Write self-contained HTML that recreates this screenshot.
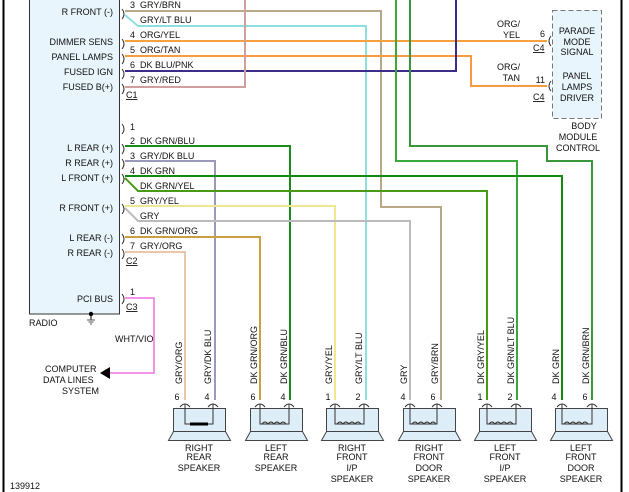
<!DOCTYPE html>
<html><head><meta charset="utf-8"><style>
html,body{margin:0;padding:0;background:#fff;}
svg{display:block;font-family:"Liberation Sans",Arial,sans-serif;font-size:9px;fill:#111;}
</style></head><body>
<svg width="629" height="492" viewBox="0 0 629 492" xmlns="http://www.w3.org/2000/svg">
<line x1="3.5" y1="0" x2="3.5" y2="492" stroke="#000" stroke-width="2"/>
<line x1="621.5" y1="0" x2="621.5" y2="492" stroke="#000" stroke-width="2"/>
<!-- radio box -->
<rect x="29.5" y="-2" width="90" height="316" fill="#e8f5fd" stroke="#333" stroke-width="1"/>
<g text-anchor="end">
<text x="113" y="15">R FRONT (-)</text>
<text x="113" y="45">DIMMER SENS</text>
<text x="113" y="60">PANEL LAMPS</text>
<text x="113" y="75">FUSED IGN</text>
<text x="113" y="90">FUSED B(+)</text>
<text x="113" y="151">L REAR (+)</text>
<text x="113" y="166">R REAR (+)</text>
<text x="113" y="181">L FRONT (+)</text>
<text x="113" y="211">R FRONT (+)</text>
<text x="113" y="241">L REAR (-)</text>
<text x="113" y="256">R REAR (-)</text>
<text x="113" y="302">PCI BUS</text>
</g>
<text x="29" y="326">RADIO</text>
<!-- ground -->
<line x1="91" y1="314" x2="91" y2="320" stroke="#000"/><circle cx="91" cy="314" r="2.2" fill="#000"/>
<line x1="87" y1="320" x2="95" y2="320" stroke="#555"/><line x1="88.5" y1="322" x2="93.5" y2="322" stroke="#555"/><line x1="90" y1="324" x2="92" y2="324" stroke="#555"/>
<!-- wires -->
<g fill="none" stroke-width="2">
<polyline points="125,11 381,11 381,207 441,207 441,400" stroke="#b8a888"/>
<polyline points="125,15 138,26 366,26 366,400" stroke="#8ee0e0"/>
<polyline points="125,41 547,41" stroke="#f7a040"/>
<polyline points="125,56 471,56 471,86 547,86" stroke="#f79a40"/>
<polyline points="125,71 456,71 456,0" stroke="#3a2e8a"/>
<polyline points="125,87 245,87 245,0" stroke="#d0a0a0"/>
<polyline points="396,0 396,161 517,161 517,400" stroke="#3aa83a"/>
<polyline points="410,0 410,146 547,146 547,161 592,161 592,400" stroke="#3a963a"/>
<polyline points="125,146 290,146 290,400" stroke="#1a8a1a"/>
<polyline points="125,161 215,161 215,400" stroke="#9a9ab8"/>
<polyline points="125,176 562,176 562,400" stroke="#128a12"/>
<polyline points="125,178 138,191 487,191 487,400" stroke="#4a9a1a"/>
<polyline points="125,206 335,206 335,400" stroke="#f0e890"/>
<polyline points="125,208 138,221 410,221 410,400" stroke="#bbbbbb"/>
<polyline points="125,237 260,237 260,400" stroke="#c8a040"/>
<polyline points="125,252 185,252 185,400" stroke="#e8c8a8"/>
<polyline points="125,298 154,298 154,373 110,373" stroke="#f070e0" stroke-width="1.5"/>
</g>
<polygon points="100,373 110,367 110,379" fill="#000"/>
<!-- connector arcs -->
<g fill="none" stroke="#333" stroke-width="1">
<path d="M122,9 q4,5 0,10"/><path d="M122,39 q4,5 0,10"/><path d="M122,54 q4,5 0,10"/><path d="M122,69 q4,5 0,10"/><path d="M122,84 q4,5 0,10"/>
<path d="M122,124 q4,5 0,10"/><path d="M122,144 q4,5 0,10"/><path d="M122,159 q4,5 0,10"/><path d="M122,174 q4,5 0,10"/><path d="M122,204 q4,5 0,10"/><path d="M122,234 q4,5 0,10"/><path d="M122,249 q4,5 0,10"/><path d="M122,294 q4,5 0,10"/>
<path d="M551,36 q-4,5 0,10"/><path d="M551,81 q-4,5 0,10"/>
</g>
<g>
<text x="130" y="8">3</text><text x="140" y="8">GRY/BRN</text>
<text x="140" y="23">GRY/LT BLU</text>
<text x="130" y="38">4</text><text x="140" y="38">ORG/YEL</text>
<text x="130" y="53">5</text><text x="140" y="53">ORG/TAN</text>
<text x="130" y="68">6</text><text x="140" y="68">DK BLU/PNK</text>
<text x="130" y="83">7</text><text x="140" y="83">GRY/RED</text>
<text x="126" y="98" text-decoration="underline">C1</text>
<text x="130" y="130">1</text>
<text x="130" y="144">2</text><text x="140" y="144">DK GRN/BLU</text>
<text x="130" y="159">3</text><text x="140" y="159">GRY/DK BLU</text>
<text x="130" y="174">4</text><text x="140" y="174">DK GRN</text>
<text x="140" y="189">DK GRN/YEL</text>
<text x="130" y="204">5</text><text x="140" y="204">GRY/YEL</text>
<text x="140" y="219">GRY</text>
<text x="130" y="234">6</text><text x="140" y="234">DK GRN/ORG</text>
<text x="130" y="249">7</text><text x="140" y="249">GRY/ORG</text>
<text x="126" y="264" text-decoration="underline">C2</text>
<text x="130" y="295">1</text>
<text x="126" y="310" text-decoration="underline">C3</text>
<text x="115" y="342">WHT/VIO</text>
<text x="45" y="372">COMPUTER</text>
<text x="43" y="383">DATA LINES</text>
<text x="62" y="394">SYSTEM</text>
<text x="520" y="27" text-anchor="end">ORG/</text><text x="520" y="38" text-anchor="end">YEL</text>
<text x="520" y="70" text-anchor="end">ORG/</text><text x="520" y="81" text-anchor="end">TAN</text>
<text x="545" y="37" text-anchor="end">6</text><text x="533" y="51" text-decoration="underline">C4</text>
<text x="545" y="83" text-anchor="end">11</text><text x="533" y="100" text-decoration="underline">C4</text>
</g>
<rect x="552.5" y="10.5" width="49" height="108" fill="#e8f5fd" stroke="#777" stroke-dasharray="5,3"/>
<g text-anchor="middle">
<text x="577" y="34">PARADE</text><text x="577" y="45">MODE</text><text x="577" y="55">SIGNAL</text>
<text x="577" y="79">PANEL</text><text x="577" y="90">LAMPS</text><text x="577" y="101">DRIVER</text>
<text x="584" y="129">BODY</text><text x="578" y="140">MODULE</text><text x="578" y="151">CONTROL</text>
</g>
<!-- speakers -->
<g id="spk">
</g>
<g font-size="9">
<!-- rotated wire labels -->
<g>
<text transform="translate(182,384) rotate(-90)">GRY/ORG</text>
<text transform="translate(211,384) rotate(-90)">GRY/DK BLU</text>
<text transform="translate(257,384) rotate(-90)">DK GRN/ORG</text>
<text transform="translate(287,384) rotate(-90)">DK GRN/BLU</text>
<text transform="translate(332,384) rotate(-90)">GRY/YEL</text>
<text transform="translate(362,384) rotate(-90)">GRY/LT BLU</text>
<text transform="translate(407,384) rotate(-90)">GRY</text>
<text transform="translate(438,384) rotate(-90)">GRY/BRN</text>
<text transform="translate(484,384) rotate(-90)">DK GRY/YEL</text>
<text transform="translate(514,384) rotate(-90)">DK GRN/LT BLU</text>
<text transform="translate(559,384) rotate(-90)">DK GRN</text>
<text transform="translate(589,384) rotate(-90)">DK GRN/BRN</text>
</g>
<g text-anchor="middle">
<text x="177" y="400">6</text><text x="207" y="400">4</text>
<text x="253" y="400">6</text><text x="283" y="400">4</text>
<text x="328" y="400">1</text><text x="358" y="400">2</text>
<text x="403" y="400">4</text><text x="433" y="400">6</text>
<text x="480" y="400">1</text><text x="510" y="400">2</text>
<text x="554" y="400">4</text><text x="585" y="400">6</text>
</g>
</g>
<g fill="#ddeef8" stroke="#444" stroke-width="1">
<rect x="173.5" y="408.5" width="52" height="23"/><polygon points="173.5,431.5 225.5,431.5 230.5,440.5 168.5,440.5"/>
<rect x="250.5" y="408.5" width="52" height="23"/><polygon points="250.5,431.5 302.5,431.5 307.5,440.5 245.5,440.5"/>
<rect x="326.5" y="408.5" width="52" height="23"/><polygon points="326.5,431.5 378.5,431.5 383.5,440.5 321.5,440.5"/>
<rect x="403.5" y="408.5" width="52" height="23"/><polygon points="403.5,431.5 455.5,431.5 460.5,440.5 398.5,440.5"/>
<rect x="479.5" y="408.5" width="52" height="23"/><polygon points="479.5,431.5 531.5,431.5 536.5,440.5 474.5,440.5"/>
<rect x="555.5" y="408.5" width="52" height="23"/><polygon points="555.5,431.5 607.5,431.5 612.5,440.5 550.5,440.5"/>
</g>
<g fill="none" stroke="#333" stroke-width="1">
<path d="M185,404 v20 h28 v-20 M180,407 q5,-6 10,0 M208,407 q5,-6 10,0"/>
<path d="M190,424 h18" stroke="#000" stroke-width="3"/>
<path d="M260,404 v20 h29 v-20 M255,407 q5,-6 10,0 M284,407 q5,-6 10,0 M262,424 q3,-4 6,0 q3,-4 6,0 q3,-4 6,0 q3,-4 6,0"/>
<path d="M335,404 v20 h29 v-20 M330,407 q5,-6 10,0 M359,407 q5,-6 10,0 M337,424 q3,-4 6,0 q3,-4 6,0 q3,-4 6,0 q3,-4 6,0"/>
<path d="M410,404 v20 h27 v-20 M405,407 q5,-6 10,0 M432,407 q5,-6 10,0 M412,424 q3,-4 6,0 q3,-4 6,0 q3,-4 6,0 q3,-4 6,0"/>
<path d="M487,404 v20 h29 v-20 M482,407 q5,-6 10,0 M511,407 q5,-6 10,0 M489,424 q3,-4 6,0 q3,-4 6,0 q3,-4 6,0 q3,-4 6,0"/>
<path d="M562,404 v20 h30 v-20 M557,407 q5,-6 10,0 M587,407 q5,-6 10,0 M564,424 q3,-4 6,0 q3,-4 6,0 q3,-4 6,0 q3,-4 6,0"/>
</g>
<g text-anchor="middle">
<text x="199" y="451">RIGHT</text><text x="199" y="460">REAR</text><text x="199" y="471">SPEAKER</text>
<text x="276" y="451">LEFT</text><text x="276" y="460">REAR</text><text x="276" y="471">SPEAKER</text>
<text x="352" y="451">RIGHT</text><text x="352" y="460">FRONT</text><text x="352" y="471">I/P</text><text x="352" y="482">SPEAKER</text>
<text x="429" y="451">RIGHT</text><text x="429" y="460">FRONT</text><text x="429" y="471">DOOR</text><text x="429" y="482">SPEAKER</text>
<text x="505" y="451">LEFT</text><text x="505" y="460">FRONT</text><text x="505" y="471">I/P</text><text x="505" y="482">SPEAKER</text>
<text x="581" y="451">LEFT</text><text x="581" y="460">FRONT</text><text x="581" y="471">DOOR</text><text x="581" y="482">SPEAKER</text>
</g>
<text x="10" y="489">139912</text>
</svg>
</body></html>
